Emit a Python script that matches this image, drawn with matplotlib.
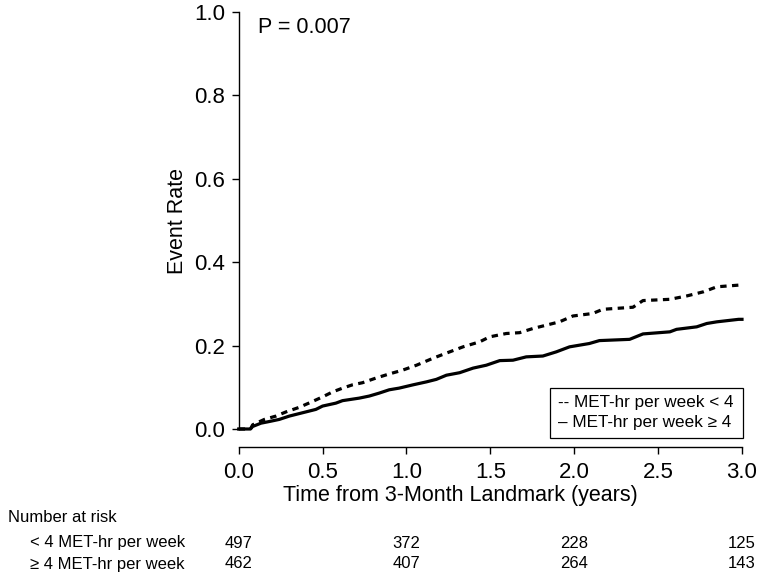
import matplotlib
matplotlib.use('Agg')
import matplotlib.pyplot as plt
from matplotlib.patches import Rectangle

plt.rcParams['font.family'] = ['Liberation Sans', 'DejaVu Sans']

# curves (years, event rate)
low_t = [0.0, 0.07, 0.083, 0.153, 0.222, 0.282, 0.361, 0.44, 0.5, 0.56, 0.619, 0.679,
         0.738, 0.817, 0.897, 0.976, 1.06, 1.16, 1.238, 1.337, 1.436, 1.496, 1.595,
         1.674, 1.754, 1.833, 1.912, 1.992, 2.11, 2.17, 2.35, 2.41, 2.57, 2.67, 2.77,
         2.85, 2.98, 3.0]
low_r = [0.0, 0.0, 0.010, 0.023, 0.031, 0.041, 0.052, 0.066, 0.077, 0.089, 0.098, 0.106,
         0.111, 0.122, 0.132, 0.141, 0.153, 0.170, 0.182, 0.197, 0.209, 0.221, 0.229,
         0.231, 0.241, 0.249, 0.257, 0.271, 0.277, 0.287, 0.292, 0.308, 0.311, 0.319, 0.329,
         0.341, 0.345, 0.345]

high_t = [0.0, 0.07, 0.083, 0.133, 0.183, 0.242, 0.302, 0.381, 0.46, 0.5, 0.579, 0.619,
          0.718, 0.778, 0.837, 0.897, 0.956, 1.04, 1.119, 1.178, 1.238, 1.317, 1.397,
          1.476, 1.556, 1.635, 1.714, 1.813, 1.893, 1.972, 2.09, 2.15, 2.33, 2.41, 2.57,
          2.61, 2.73, 2.79, 2.85, 2.98, 3.0]
high_r = [0.0, 0.0, 0.006, 0.014, 0.018, 0.023, 0.031, 0.039, 0.047, 0.055, 0.062, 0.068,
          0.074, 0.079, 0.086, 0.094, 0.098, 0.106, 0.113, 0.119, 0.129, 0.135, 0.146,
          0.153, 0.164, 0.165, 0.173, 0.175, 0.185, 0.197, 0.205, 0.212, 0.215, 0.228, 0.233,
          0.239, 0.245, 0.253, 0.257, 0.263, 0.263]

risk_times = [0, 1, 2, 3]
risk_low = [497, 372, 228, 125]
risk_high = [462, 407, 264, 143]
risk_labels = ['< 4 MET-hr per week', '\u2265 4 MET-hr per week']
legend_lines = ['-- MET-hr per week < 4', '\u2013 MET-hr per week \u2265 4']

W, H = 762, 580
fig = plt.figure(figsize=(W / 100, H / 100), dpi=100)
x0, x1, y0, y1 = 238.7, 742, 429, 12
ax = fig.add_axes([x0 / W, (H - y0) / H, (x1 - x0) / W, (y0 - y1) / H])

ax.plot(low_t, low_r, color='black', lw=2.3, linestyle=(0, (2.0, 1.7)),
        clip_on=False, solid_joinstyle='miter')
ax.plot(high_t, high_r, color='black', lw=2.3, clip_on=False)

ax.set_xlim(0, 3)
ax.set_ylim(0, 1)
ax.set_xticks([0, 0.5, 1.0, 1.5, 2.0, 2.5, 3.0])
ax.set_yticks([0, 0.2, 0.4, 0.6, 0.8, 1.0])
ax.xaxis.set_major_formatter(matplotlib.ticker.FormatStrFormatter('%.1f'))
ax.yaxis.set_major_formatter(matplotlib.ticker.FormatStrFormatter('%.1f'))
for s in ['top', 'right']:
    ax.spines[s].set_visible(False)
ax.spines['bottom'].set_position(('outward', 13))
ax.spines['bottom'].set_bounds(0, 3)
ax.spines['left'].set_bounds(0, 1)
ax.spines['left'].set_linewidth(1.0)
ax.spines['bottom'].set_linewidth(1.0)
ax.tick_params(axis='y', length=5, width=1.0, labelsize=16, pad=5)
ax.tick_params(axis='x', length=5, width=1.0, labelsize=16, pad=6)
ax.set_ylabel('Event Rate', fontsize=15.5, labelpad=4)
ax.set_xlabel('Time from 3-Month Landmark (years)', fontsize=15.5, labelpad=6)
ax.xaxis.set_label_coords(0.44, -0.135)

ax.text(0.115, 0.964, 'P = 0.007', fontsize=15.5, va='center')

# legend box drawn by hand, text only like the original
fig.patches.append(Rectangle((550 / W, 1 - 438 / H), 193 / W, 50 / H,
                             transform=fig.transFigure, facecolor='white',
                             edgecolor='black', lw=0.9))
for i, line in enumerate(legend_lines):
    fig.text(558 / W, 1 - (403 + 19 * i) / H, line, fontsize=12.3, va='center')

# number at risk table
fig.text(8 / W, 1 - 518 / H, 'Number at risk', fontsize=12, va='center')
for i, (lab, vals) in enumerate([(risk_labels[0], risk_low), (risk_labels[1], risk_high)]):
    yy = 1 - (543 + 21 * i) / H
    fig.text(30 / W, yy, lab, fontsize=12, va='center')
    for t, v in zip(risk_times, vals):
        xx = ax.transData.transform((t, 0))[0] / W
        fig.text(xx, yy, str(v), fontsize=12, va='center', ha='center')

fig.savefig('out.png', dpi=100)
